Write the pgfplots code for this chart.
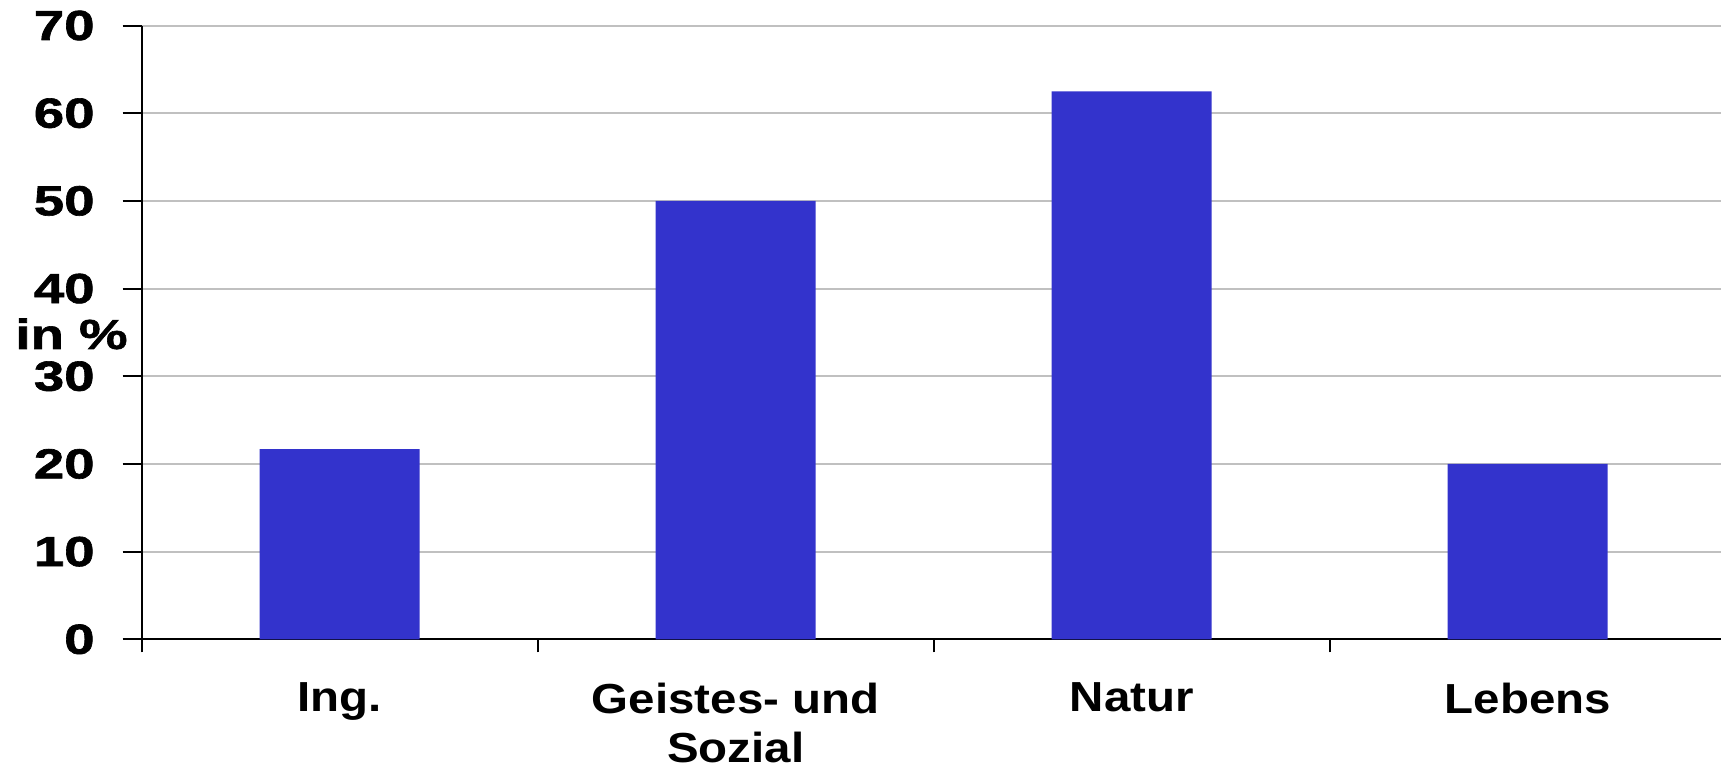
\documentclass[border=0pt]{standalone}
\usepackage{fontspec}
\setmainfont{Liberation Sans}
\newfontfamily\yfont{Liberation Sans}[FakeStretch=1.3, FakeBold=1.5]
\newfontfamily\xfont{Liberation Sans}[FakeStretch=1.13]
\usepackage{pgfplots}
\pgfplotsset{compat=1.18}
\definecolor{barblue}{HTML}{3333CC}
\definecolor{gridgray}{HTML}{C0C0C0}
\begin{document}
\begin{tikzpicture}
\path[use as bounding box] (0,0) rectangle (860.5pt,385.5pt);
\begin{axis}[
  at={(70.85pt,65.85pt)}, anchor=south west,
  scale only axis, width=792pt, height=306.9pt,
  xmin=-0.5, xmax=3.5, ymin=0, ymax=70,
  ytick={0,10,...,70},
  xtick={0,1,2,3},
  xticklabels={Ing., {Geistes- und\\Sozial}, Natur, Lebens},
  minor xtick={-0.5,0.5,1.5,2.5},
  axis lines=left,
  axis line style={-, black, line width=1pt},
  tick align=outside,
  major tick length=9.5pt,
  minor tick length=6.5pt,
  xtick style={draw=none},
  minor x tick style={draw=black, line width=1pt},
  ytick style={black, line width=1pt},
  ymajorgrids,
  grid style={gridgray, line width=1pt},
  /pgf/number format/assume math mode=true,
  yticklabel style={font=\yfont\bfseries\fontsize{21}{25}\selectfont, anchor=east, inner sep=0pt, xshift=-13.85pt},
  xticklabel style={font=\xfont\bfseries\fontsize{21}{24.5}\selectfont, align=center, anchor=north, inner sep=0pt, yshift=-12pt},
  ylabel={in \%},
  every axis y label/.style={at={(axis description cs:-0.0443,0.473)}, anchor=base, font=\yfont\bfseries\fontsize{21}{25}\selectfont},
  ybar, bar width=80pt,
  clip=false,
]
\addplot[fill=barblue, draw=none] coordinates {(0,21.7) (1,50) (2,62.5) (3,20)};
\end{axis}
\end{tikzpicture}
\end{document}
